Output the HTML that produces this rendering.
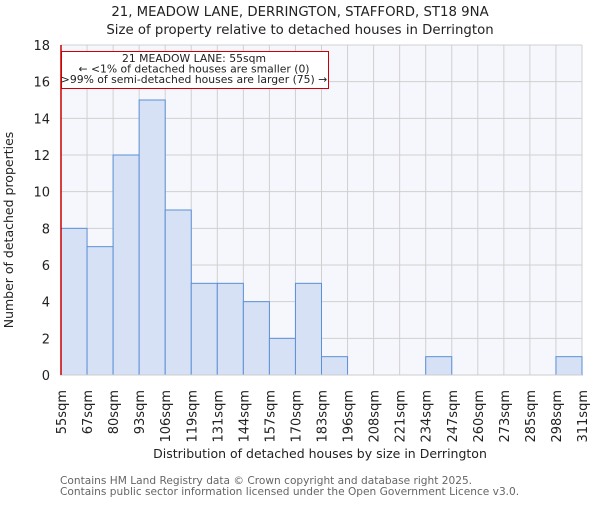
<!DOCTYPE html>
<html><head><meta charset="utf-8"><style>
body{margin:0;background:#fff}
svg text{font-family:"DejaVu Sans","Liberation Sans",sans-serif;fill:#222}
</style></head><body>
<svg id="chart" width="600" height="500" viewBox="0 0 600 500" xmlns="http://www.w3.org/2000/svg">
<text x="300" y="16" text-anchor="middle" font-size="13.3">21, MEADOW LANE, DERRINGTON, STAFFORD, ST18 9NA</text>
<text x="300" y="34" text-anchor="middle" font-size="13.3">Size of property relative to detached houses in Derrington</text>
<rect x="61" y="45" width="521" height="330" fill="#f5f7fd"/>
<g id="grid"></g>
<g id="bars"></g>
<g id="yticks"></g>
<g id="xticks"></g>
<line x1="61" y1="45" x2="61" y2="375" stroke="#cc0000" stroke-width="1.5"/>
<rect x="61.5" y="51.5" width="267" height="37" fill="#fff" stroke="#cc0000" stroke-width="1"/>
<text x="194" y="62" text-anchor="middle" font-size="10.8"><tspan x="194">21 MEADOW LANE: 55sqm</tspan><tspan x="194" dy="10.5">← &lt;1% of detached houses are smaller (0)</tspan><tspan x="194" dy="10.5">&gt;99% of semi-detached houses are larger (75) →</tspan></text>
<text transform="translate(13,230) rotate(-90)" text-anchor="middle" font-size="12.5">Number of detached properties</text>
<text x="320" y="458" text-anchor="middle" font-size="12.5">Distribution of detached houses by size in Derrington</text>
<text x="60" y="484" font-size="10.6" style="fill:#666">Contains HM Land Registry data © Crown copyright and database right 2025.</text>
<text x="60" y="495" font-size="10.6" style="fill:#666">Contains public sector information licensed under the Open Government Licence v3.0.</text>
</svg>
<script>
const categories=["55sqm","67sqm","80sqm","93sqm","106sqm","119sqm","131sqm","144sqm","157sqm","170sqm","183sqm","196sqm","208sqm","221sqm","234sqm","247sqm","260sqm","273sqm","285sqm","298sqm","311sqm"];
const counts=[8,7,12,15,9,5,5,4,2,5,1,0,0,0,1,0,0,0,0,1];
const yTicks=[0,2,4,6,8,10,12,14,16,18];
const NS="http://www.w3.org/2000/svg";
const x0=61,x1=582,y0=375,y1=45,yMax=18;
const nb=counts.length,bw=(x1-x0)/nb;
const xs=i=>x0+i*bw, ys=v=>y0-(v/yMax)*(y0-y1);
function mk(t,a,p){const e=document.createElementNS(NS,t);for(const k in a)e.setAttribute(k,a[k]);p.appendChild(e);return e;}
const grid=document.getElementById('grid'),bars=document.getElementById('bars'),yt=document.getElementById('yticks'),xt=document.getElementById('xticks');
yTicks.forEach(v=>{
  const l=mk('line',{x1:x0,x2:x1,y1:ys(v),y2:ys(v),stroke:'#d0d0d0','stroke-width':1},grid);
  
  
  const t=mk('text',{x:50,y:ys(v)+5,'text-anchor':'end','font-size':13},yt);
  t.textContent=v;
  
  
});
categories.forEach((c,i)=>{
  const l=mk('line',{x1:xs(i),x2:xs(i),y1:y1,y2:y0,stroke:'#d0d0d0','stroke-width':1},grid);
  
  
  const t=mk('text',{transform:`translate(${xs(i)+5},390) rotate(-90)`,'text-anchor':'end','font-size':13},xt);
  t.textContent=c;
  
  
});
counts.forEach((v,i)=>{
  if(v<=0)return;
  const r=mk('rect',{x:xs(i),y:ys(v),width:bw,height:y0-ys(v),fill:'#d6e1f5',stroke:'#5b8fd6','stroke-width':1},bars);
  
  
});
const ax=mk('line',{x1:x0,x2:x1,y1:y0,y2:y0,stroke:'#cccccc','stroke-width':1},bars);


</script>
</body></html>
